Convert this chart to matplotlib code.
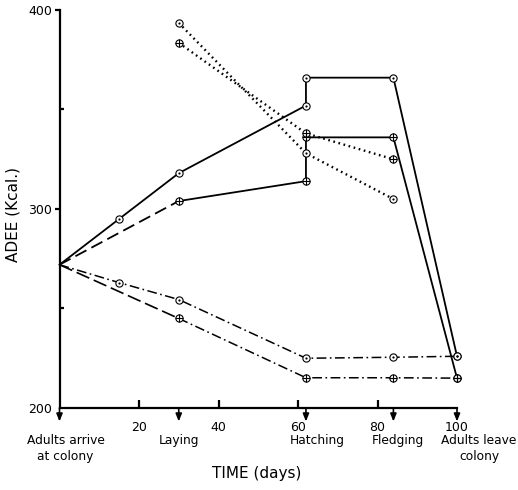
import matplotlib
matplotlib.use("Agg")
import matplotlib.pyplot as plt

plt.rcParams['font.family'] = ['DejaVu Sans']
plt.rcParams['lines.scale_dashes'] = False

# ---- data ----
s1_x = [0, 15, 30, 62, 62, 84, 100]
s1_y = [272, 295, 318, 352, 366, 366, 226]

s2a_x = [0, 30]
s2a_y = [272, 304]
s2b_x = [30, 62, 62, 84, 100]
s2b_y = [304, 314, 336, 336, 215]

s3_x = [0, 15, 30, 62, 84, 100]
s3_y = [272, 263, 254.5, 225, 225.5, 226]

s4a_x = [0, 30]
s4a_y = [272, 245]
s4b_x = [30, 62, 84, 100]
s4b_y = [245, 215.2, 215.2, 215]

s5_x = [30, 62, 84]
s5_y = [393.5, 328, 305]

s6_x = [30, 62, 84]
s6_y = [383.5, 338, 325]

event_days = [0, 30, 62, 84, 100]
event_names = ["Adults arrive\nat colony", "Laying", "Hatching", "Fledging",
               "Adults leave\ncolony"]
event_dx = [6, 0, 11, 4, 22]  # label offsets in pixels

x_ticks = [20, 40, 60, 80]
y_major = [200, 300, 400]
y_minor = [250, 350]

# ---- figure ----
fig = plt.figure(figsize=(5.18, 4.90), dpi=100)
ax = fig.add_axes([59.5/518, 1-408/490, 397.5/518, 398/490])
ax.set_xlim(0, 100)
ax.set_ylim(200, 400)
for sp in ['top', 'right']:
    ax.spines[sp].set_visible(False)
for sp in ['left', 'bottom']:
    ax.spines[sp].set_linewidth(1.6)

LW = 1.3
MS = 5.2

def mk(xs, ys, kind):
    ax.plot(xs, ys, linestyle='none', marker='o', markersize=MS, mfc='white',
            mec='black', mew=0.8, clip_on=False, zorder=5)
    if kind == 'dot':
        ax.plot(xs, ys, linestyle='none', marker='o', markersize=1.6, mfc='black',
                mec='black', mew=0, clip_on=False, zorder=6)
    else:
        ax.plot(xs, ys, linestyle='none', marker='+', markersize=MS, color='black',
                mew=0.8, clip_on=False, zorder=6)

# series 1 (solid, odot)
ax.plot(s1_x, s1_y, color='black', lw=LW, clip_on=False)
mk(s1_x[1:], s1_y[1:], 'dot')

# series 2 (dashed then solid, oplus)
ax.plot(s2a_x, s2a_y, color='black', lw=LW, dashes=(9, 4))
ax.plot(s2b_x, s2b_y, color='black', lw=LW, clip_on=False)
mk(s2b_x, s2b_y, 'plus')

# series 3 (dash-dot, odot)
ax.plot(s3_x, s3_y, color='black', lw=1.1, dashes=(7, 2.5, 1.2, 2.5), clip_on=False)
mk(s3_x[1:], s3_y[1:], 'dot')

# series 4 (long dash then dash-dot, oplus)
ax.plot(s4a_x, s4a_y, color='black', lw=1.2, dashes=(10, 3.5))
ax.plot(s4b_x, s4b_y, color='black', lw=1.1, dashes=(7, 2.5, 1.2, 2.5), clip_on=False)
mk(s4b_x, s4b_y, 'plus')

# series 5/6 dotted
ax.plot(s5_x, s5_y, color='black', lw=1.7, dashes=(1.2, 2.6))
mk(s5_x, s5_y, 'dot')
ax.plot(s6_x, s6_y, color='black', lw=1.7, dashes=(1.2, 2.6))
mk(s6_x, s6_y, 'plus')

# ---- axes ticks ----
ax.set_xticks(x_ticks, labels=[str(v) for v in x_ticks])
ax.set_xticks([100], labels=['100'], minor=True)
ax.tick_params(axis='x', which='major', direction='in', length=6, width=1.6,
               pad=9.5, labelsize=9)
ax.tick_params(axis='x', which='minor', length=0, pad=9.5, labelsize=9)

ax.set_yticks(y_major, labels=[str(v) for v in y_major])
ax.set_yticks(y_minor, minor=True)
ax.tick_params(axis='y', which='major', direction='out', length=3.6, width=1.6,
               pad=1.8, labelsize=9)
ax.tick_params(axis='y', which='minor', direction='in', length=3, width=1.6)
ax.yaxis.get_major_ticks()[0].tick1line.set_visible(False)

# event arrows and labels
xt = ax.get_xaxis_transform()
for d, name, dx in zip(event_days, event_names, event_dx):
    ax.annotate('', xy=(d, -0.034), xycoords=xt, xytext=(d, 0), textcoords=xt,
                arrowprops=dict(arrowstyle='-|>,head_length=0.45,head_width=0.18',
                                lw=1.2, color='black', shrinkA=0, shrinkB=0),
                annotation_clip=False)
    ax.annotate(name, xy=(d, 0), xycoords=xt, xytext=(dx, -26),
                textcoords='offset pixels', ha='center', va='top', fontsize=8.8,
                linespacing=1.25, annotation_clip=False)

ax.set_xlabel('TIME (days)', fontsize=11)
ax.xaxis.set_label_coords(0.497, -0.145)
ax.set_ylabel('ADEE (Kcal.)', fontsize=11)
ax.yaxis.set_label_coords(-0.099, 0.485)

fig.savefig('out.png', dpi=100)
